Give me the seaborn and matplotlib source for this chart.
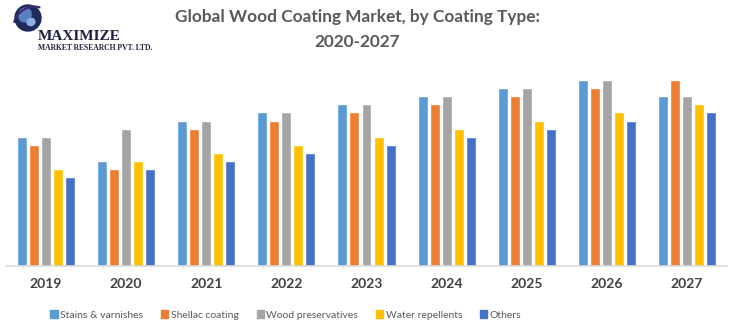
import matplotlib
matplotlib.use("Agg")
import matplotlib.pyplot as plt
import matplotlib.patches as mpatches
import seaborn as sns
import pandas as pd

years = ["2019", "2020", "2021", "2022", "2023", "2024", "2025", "2026", "2027"]
types = ["Stains & varnishes", "Shellac coating", "Wood preservatives",
         "Water repellents", "Others"]
stains = [16, 13, 18, 19, 20, 21, 22, 23, 21]
shellac = [15, 12, 17, 18, 19, 20, 21, 22, 23]
preservatives = [16, 17, 18, 19, 20, 21, 22, 23, 21]
repellents = [12, 13, 14, 15, 16, 17, 18, 19, 20]
others = [11, 12, 13, 14, 15, 16, 17, 18, 19]
colors = ["#5B9BD5", "#ED7D31", "#A5A5A5", "#FFC000", "#4472C4"]

series = [stains, shellac, preservatives, repellents, others]
rows = []
for t, vals in zip(types, series):
    for y, v in zip(years, vals):
        rows.append({"Year": y, "Type": t, "Value": v})
df = pd.DataFrame(rows)

sns.set_theme(style="white")
plt.rcParams["font.family"] = ["Lato", "DejaVu Sans"]

fig = plt.figure(figsize=(7.41, 3.30), dpi=100)
ax = fig.add_axes([6 / 741, 1 - 266 / 330, 721 / 741, 202 / 330])

sns.barplot(data=df, x="Year", y="Value", hue="Type", hue_order=types,
            order=years, palette=colors, width=0.75, gap=0.17,
            saturation=1, ax=ax, legend=False)

ax.set_xlim(-0.5, 8.5)
ax.set_ylim(0, 25)
ax.set_xlabel("")
ax.set_ylabel("")
ax.set_yticks([])
for s in ["top", "right", "left"]:
    ax.spines[s].set_visible(False)
ax.spines["bottom"].set_color("#D9D9D9")
ax.spines["bottom"].set_linewidth(1.2)
ax.tick_params(axis="x", length=0, pad=9)
for lbl in ax.get_xticklabels():
    lbl.set_fontweight("bold")
    lbl.set_fontsize(10)
    lbl.set_color("#404040")

# Title
title_kw = dict(ha="center", va="center", fontsize=12.4, fontweight="bold",
                color="#595959")
fig.text(357 / 741, 1 - 17 / 330, "Global Wood Coating Market, by Coating Type:", **title_kw)
fig.text(357 / 741, 1 - 42 / 330, "2020-2027", **title_kw)

# Legend
handles = [mpatches.Patch(color=c, label=t) for c, t in zip(colors, types)]
leg = fig.legend(handles=handles, loc="center", ncol=5,
                 bbox_to_anchor=(286 / 741, 1 - 315 / 330), frameon=False,
                 fontsize=7.5, handlelength=0.7, handleheight=0.7,
                 handletextpad=0.25, columnspacing=1.7, borderpad=0)
for t in leg.get_texts():
    t.set_color("#595959")

# Company logo
logo = fig.add_axes([0, 1 - 55 / 330, 160 / 741, 55 / 330])
logo.set_xlim(0, 160)
logo.set_ylim(55, 0)
logo.axis("off")
logo.add_patch(mpatches.Circle((28, 18), 13, color="#1F2A5C"))
logo.add_patch(mpatches.Ellipse((25, 15), 12, 14, angle=20, color="#5A7FC0"))
logo.add_patch(mpatches.Ellipse((31, 22), 8, 7, angle=-20, color="#8FB0E0"))
logo.add_patch(mpatches.Arc((30, 20), 34, 24, angle=-30, theta1=200, theta2=340,
                            color="#3A2A6C", lw=1.5))
logo.text(38, 37, "MAXIMIZE", fontsize=11, fontweight="bold", color="#1F1F3F",
          family=["Liberation Serif", "DejaVu Serif"], va="center", ha="left")
logo.text(38, 48, "MARKET RESEARCH PVT. LTD.", fontsize=5.5, fontweight="bold",
          color="#1F1F3F", family=["Liberation Serif", "DejaVu Serif"],
          va="center", ha="left")

fig.savefig("out.png", dpi=100)
